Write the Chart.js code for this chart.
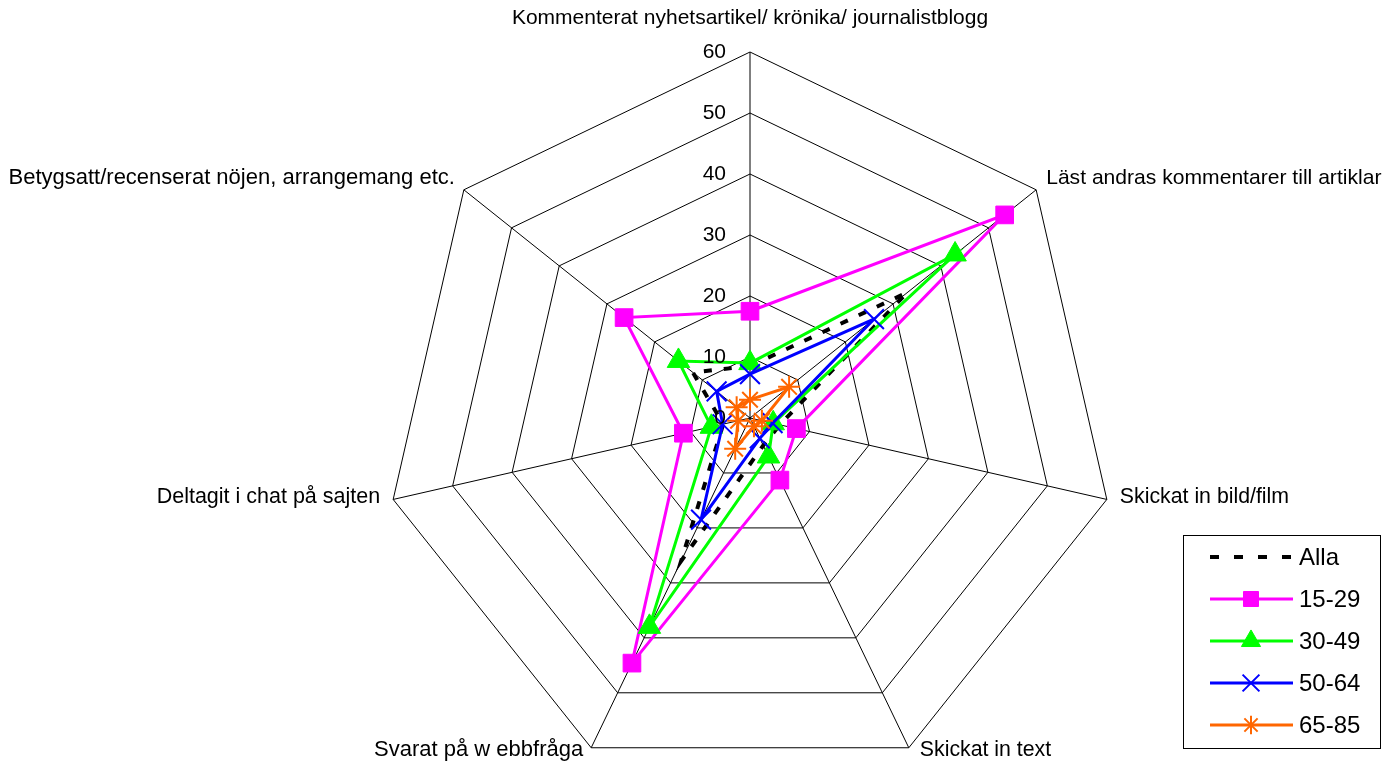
<!DOCTYPE html>
<html>
<head>
<meta charset="utf-8">
<script src="https://cdn.jsdelivr.net/npm/chart.js@4/dist/chart.umd.min.js"></script>
<style>
  html, body { margin: 0; padding: 0; background: #fff; overflow: hidden; width: 1388px; height: 764px; }
  #wrap { position: absolute; left: 0; top: 0; width: 1388px; height: 800px; }
</style>
</head>
<body>
<div id="wrap"><canvas id="c" width="1388" height="800"></canvas></div>
<script>
// ---- data ----
const categories = [
  "Kommenterat nyhetsartikel/ krönika/ journalistblogg",
  "Läst andras kommentarer till artiklar",
  "Skickat in bild/film",
  "Skickat in text",
  "Svarat på w ebbfråga",
  "Deltagit i chat på sajten",
  "Betygsatt/recenserat nöjen, arrangemang etc."
];
const seriesNames = ["Alla", "15-29", "30-49", "50-64", "65-85"];
const alla   = [8.5, 33, 5, 5, 26, 4.5, 12];
const age1529 = [17.5, 53.4, 7.8, 11.3, 44.6, 11.2, 26.4];
const age3049 = [9, 43, 3.9, 7, 38, 6.5, 15];
const age5064 = [7.2, 26, 3.8, 3.7, 18.5, 4.6, 7];
const age6585 = [3, 8.2, 2, 1.5, 5.6, 2, 2.8];
const tickValues = [0, 10, 20, 30, 40, 50, 60];

// ---- styles ----
const FONT = '"Liberation Sans", Arial, Helvetica, sans-serif';
const labelLayout = [
  { align: 'center', dx: 0,   dy: -34, size: 21 },
  { align: 'left',   dx: 10,  dy: -12, size: 21.1 },
  { align: 'left',   dx: 13,  dy: -2,  size: 21.3 },
  { align: 'left',   dx: 11,  dy: 2,   size: 21.3 },
  { align: 'right',  dx: -8,  dy: 2,   size: 22 },
  { align: 'right',  dx: -13, dy: -2,  size: 21.5 },
  { align: 'right',  dx: -9,  dy: -12, size: 22 }
];

function drawMarker(ctx, style, radius, bw, x, y) {
  if (Chart.helpers && Chart.helpers.drawPoint) {
    Chart.helpers.drawPoint(ctx, { pointStyle: style, radius: radius, rotation: 0, borderWidth: bw }, x, y);
  }
}

const overlay = {
  id: 'overlay',
  afterDraw(chart) {
    const ctx = chart.ctx;
    const r = chart.scales.r;
    ctx.save();
    // tick labels
    ctx.font = '21px ' + FONT;
    ctx.fillStyle = '#000';
    ctx.textAlign = 'right';
    ctx.textBaseline = 'middle';
    tickValues.forEach(v => {
      const p = r.getPointPositionForValue(0, v);
      ctx.fillText(String(v), p.x - 24, p.y);
    });
    // axis labels
    categories.forEach((lab, i) => {
      const p = r.getPointPosition(i, r.drawingArea);
      const l = labelLayout[i];
      ctx.font = l.size + 'px ' + FONT;
      ctx.textAlign = l.align;
      ctx.fillText(lab, p.x + l.dx, p.y + l.dy);
    });
    // legend
    const bx = 1183.5, by = 535.5, bw = 197, bh = 213;
    ctx.fillStyle = '#fff';
    ctx.fillRect(bx, by, bw, bh);
    ctx.strokeStyle = '#000';
    ctx.lineWidth = 1;
    ctx.setLineDash([]);
    ctx.strokeRect(bx, by, bw, bh);
    const ds = chart.data.datasets;
    ds.forEach((d, i) => {
      const y = 557 + i * 42;
      ctx.save();
      ctx.strokeStyle = d.borderColor;
      ctx.lineWidth = d.borderWidth;
      ctx.setLineDash(d.borderDash ? [9, 15] : []);
      ctx.beginPath();
      ctx.moveTo(1210, y);
      ctx.lineTo(1293, y);
      ctx.stroke();
      ctx.setLineDash([]);
      if (d.pointRadius > 0) {
        ctx.fillStyle = d.pointBackgroundColor;
        ctx.strokeStyle = d.pointBorderColor;
        ctx.lineWidth = d.pointBorderWidth;
        drawMarker(ctx, d.pointStyle, d.pointRadius * 0.85, d.pointBorderWidth, 1251, y);
      }
      ctx.restore();
      ctx.fillStyle = '#000';
      ctx.font = '24px ' + FONT;
      ctx.textAlign = 'left';
      ctx.textBaseline = 'middle';
      ctx.fillText(d.label, 1299, y + 1);
    });
    ctx.restore();
  }
};

function series(label, data, color, extra) {
  return Object.assign({
    label: label,
    data: data,
    borderColor: color,
    backgroundColor: color,
    pointBackgroundColor: color,
    pointBorderColor: color,
    borderWidth: 3,
    fill: false,
    tension: 0
  }, extra);
}

new Chart(document.getElementById('c'), {
  type: 'radar',
  data: {
    labels: categories,
    datasets: [
      series(seriesNames[0], alla, '#000000', { borderWidth: 4, borderDash: [8, 12], pointRadius: 0, pointBorderWidth: 0, order: 5 }),
      series(seriesNames[1], age1529, '#FF00FF', { pointStyle: 'rect', pointRadius: 12.5, pointBorderWidth: 1, order: 4 }),
      series(seriesNames[2], age3049, '#00FF00', { pointStyle: 'triangle', pointRadius: 13, pointBorderWidth: 1, order: 3 }),
      series(seriesNames[3], age5064, '#0000FF', { pointStyle: 'crossRot', pointRadius: 14, pointBorderWidth: 2, order: 2 }),
      series(seriesNames[4], age6585, '#FF6600', { pointStyle: 'star', pointRadius: 11, pointBorderWidth: 2, order: 1 })
    ]
  },
  options: {
    responsive: false,
    animation: false,
    devicePixelRatio: 1,
    layout: { padding: { top: 52, bottom: 16, left: 384, right: 272 } },
    plugins: { legend: { display: false }, title: { display: false }, tooltip: { enabled: false } },
    elements: { line: { borderJoinStyle: 'miter' } },
    scales: {
      r: {
        min: 0,
        max: 60,
        beginAtZero: true,
        ticks: { display: false, stepSize: 10 },
        grid: { color: '#000', lineWidth: 1 },
        angleLines: { color: '#000', lineWidth: 1 },
        pointLabels: { display: false }
      }
    }
  },
  plugins: [overlay]
});
</script>
</body>
</html>
